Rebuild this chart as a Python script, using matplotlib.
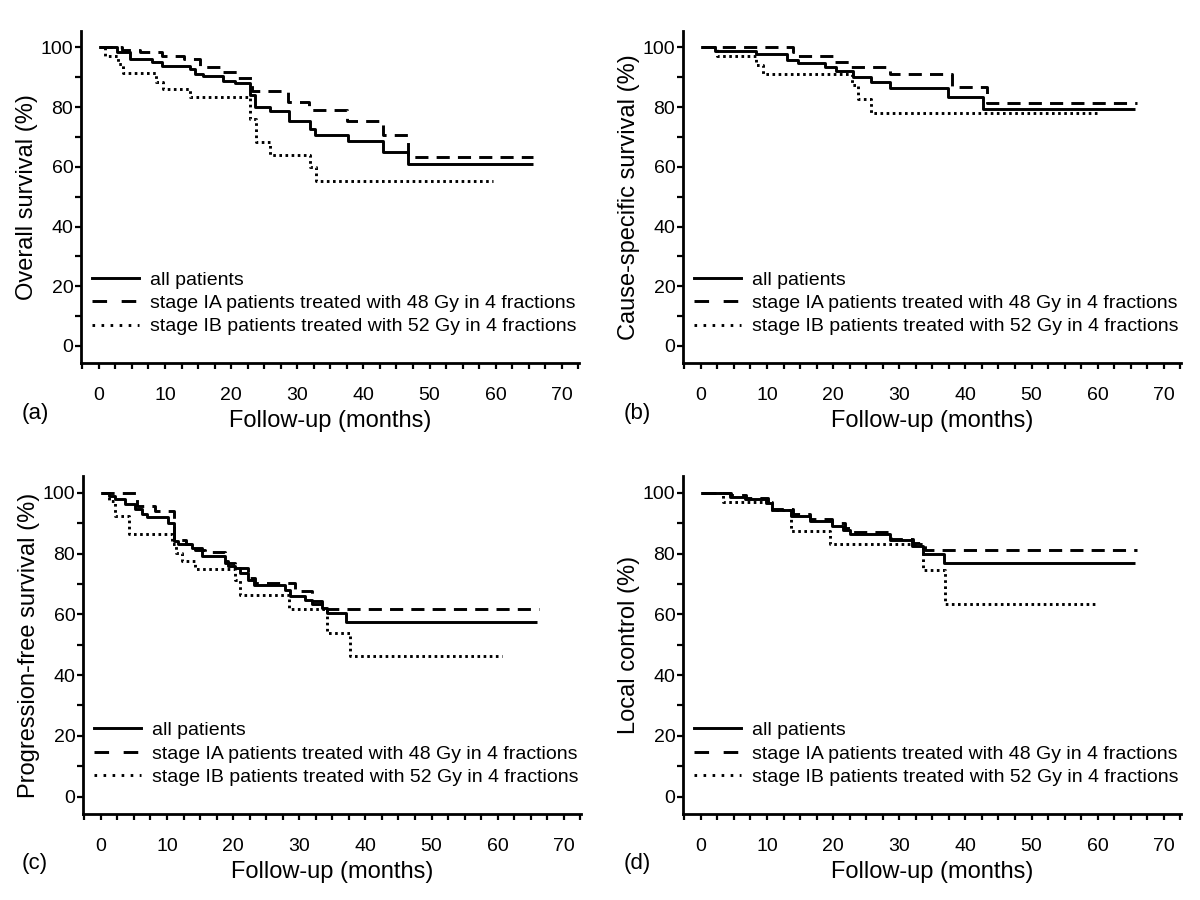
import matplotlib
matplotlib.use("Agg")
import matplotlib.pyplot as plt
from matplotlib.lines import Line2D
from matplotlib.ticker import MultipleLocator

plt.rcParams["font.family"] = ["Liberation Sans", "DejaVu Sans"]

# ---- data (step times in months, survival in %) ----
# (a) overall survival
os_all_t = [0, 2.7, 4.7, 8.0, 9.5, 13.8, 14.5, 15.8, 18.8, 20.6, 22.8, 23.6, 25.9,
            28.8, 31.9, 32.7, 37.7, 42.9, 46.8, 65.7]
os_all_s = [100, 98.3, 96.1, 95.0, 93.9, 92.8, 91.1, 90.3, 88.9, 88.0, 83.9, 80.0, 78.6,
            75.5, 72.7, 70.8, 68.5, 64.9, 61.0, 61.0]
os_ia_t = [0, 3.5, 6.2, 9.5, 12.8, 15.3, 18.6, 21.1, 23.1, 28.6, 31.7, 37.5, 43.0, 46.8, 65.7]
os_ia_s = [100, 99.3, 98.3, 97.2, 96.1, 93.3, 91.7, 89.8, 85.5, 81.6, 78.9, 75.3, 70.5, 63.3, 63.3]
os_ib_t = [0, 1.0, 2.9, 3.7, 8.7, 9.7, 13.8, 22.8, 23.8, 25.9, 31.9, 32.9, 59.6]
os_ib_s = [100, 97.0, 94.4, 91.4, 88.5, 86.1, 83.3, 76.1, 68.3, 64.1, 60.0, 55.3, 55.3]

# (b) cause-specific survival
css_all_t = [0, 2.1, 8.4, 13.0, 14.7, 18.8, 20.5, 23.0, 25.8, 28.6, 37.4, 42.7, 65.7]
css_all_s = [100, 98.9, 97.7, 95.8, 94.7, 93.3, 92.1, 90.2, 88.5, 86.3, 83.5, 79.4, 79.4]
css_ia_t = [0, 14.0, 14.7, 20.0, 22.5, 28.6, 37.9, 43.2, 65.9]
css_ia_s = [100, 98.6, 97.1, 95.2, 93.5, 91.1, 86.9, 81.3, 81.3]
css_ib_t = [0, 2.4, 8.4, 9.4, 22.8, 23.8, 25.8, 59.9]
css_ib_s = [100, 97.1, 94.1, 91.1, 87.4, 82.7, 78.0, 78.0]

# (c) progression-free survival
pfs_all_t = [0, 1.2, 2.2, 3.7, 5.2, 6.2, 7.0, 10.2, 11.0, 11.7, 13.8, 15.3, 18.8, 19.3,
             20.3, 21.1, 22.3, 23.1, 27.9, 28.6, 30.9, 31.9, 33.4, 34.2, 37.0, 66.0]
pfs_all_s = [100, 98.9, 97.8, 96.2, 94.5, 92.9, 92.1, 90.1, 84.1, 83.0, 81.9, 79.3, 77.5, 76.0,
             75.3, 73.6, 71.4, 69.5, 68.1, 65.9, 64.8, 63.5, 62.1, 60.4, 57.4, 57.4]
pfs_ia_t = [0, 5.4, 8.2, 11.0, 12.8, 14.3, 15.8, 18.8, 20.3, 22.3, 23.3, 29.4, 31.9, 33.4, 66.2]
pfs_ia_s = [100, 95.6, 94.0, 84.6, 83.0, 81.3, 80.4, 76.9, 75.3, 72.0, 70.3, 67.6, 64.3, 61.8, 61.8]
pfs_ib_t = [0, 1.2, 2.2, 4.2, 10.7, 11.3, 12.3, 14.3, 20.3, 21.1, 28.4, 34.2, 37.7, 60.7]
pfs_ib_s = [100, 97.3, 92.3, 86.3, 83.0, 80.2, 77.5, 74.9, 71.4, 66.5, 61.8, 53.8, 46.4, 46.4]

# (d) local control
lc_all_t = [0, 4.4, 6.7, 9.9, 10.7, 13.7, 16.5, 19.8, 21.5, 22.5, 28.6, 31.9, 33.6, 36.7, 65.7]
lc_all_s = [100, 98.7, 98.0, 96.7, 94.3, 92.3, 90.7, 89.2, 87.7, 86.3, 84.4, 82.4, 80.0, 76.9, 76.9]
lc_ia_t = [0, 4.6, 6.9, 10.2, 10.7, 14.0, 16.5, 19.8, 21.8, 23.0, 28.8, 32.1, 33.9, 65.9]
lc_ia_s = [100, 99.1, 98.4, 96.9, 94.7, 92.9, 91.4, 90.1, 88.5, 87.0, 84.8, 83.3, 81.3, 81.3]
lc_ib_t = [0, 3.4, 10.7, 13.7, 19.5, 33.6, 36.9, 59.6]
lc_ib_s = [100, 96.9, 94.3, 87.4, 83.2, 74.7, 63.5, 63.5]

labels = ["all patients",
          "stage IA patients treated with 48 Gy in 4 fractions",
          "stage IB patients treated with 52 Gy in 4 fractions"]
ylabels = ["Overall survival (%)", "Cause-specific survival (%)",
           "Progression-free survival (%)", "Local control (%)"]
tags = ["(a)", "(b)", "(c)", "(d)"]

panels = [
    [(os_all_t, os_all_s), (os_ia_t, os_ia_s), (os_ib_t, os_ib_s)],
    [(css_all_t, css_all_s), (css_ia_t, css_ia_s), (css_ib_t, css_ib_s)],
    [(pfs_all_t, pfs_all_s), (pfs_ia_t, pfs_ia_s), (pfs_ib_t, pfs_ib_s)],
    [(lc_all_t, lc_all_s), (lc_ia_t, lc_ia_s), (lc_ib_t, lc_ib_s)],
]

LW = 2.1
STYLES = ["-", (0, (4.5, 2.8)), (0, (0.9, 1.2))]
LEG_STYLES = ["-", (0, (5.0, 5.0)), (0, (0.9, 2.2))]

W, H = 1200, 900
# axes boxes in pixels: left, right, top, bottom
boxes = [(81, 579, 31, 363), (683, 1181, 31, 363),
         (83, 581, 476, 814), (683, 1181, 476, 814)]
tag_pos = [(22, 414), (624, 414), (22, 864), (624, 864)]

fig = plt.figure(figsize=(W / 100, H / 100), dpi=100)
for k, (l, r, t, b) in enumerate(boxes):
    ax = fig.add_axes([l / W, 1 - b / H, (r - l) / W, (b - t) / H])
    for (tt, ss), ls in zip(panels[k], STYLES):
        ax.step(tt, ss, where="post", color="black", lw=LW, linestyle=ls,
                solid_capstyle="butt", dash_capstyle="butt")
    ax.set_xlim(-2.7, 72.6)
    ax.set_ylim(-5.7, 105.5)
    ax.xaxis.set_major_locator(MultipleLocator(10))
    ax.xaxis.set_minor_locator(MultipleLocator(2.5))
    ax.yaxis.set_major_locator(MultipleLocator(20))
    ax.yaxis.set_minor_locator(MultipleLocator(10))
    for side in ("top", "right"):
        ax.spines[side].set_visible(False)
    for side in ("left", "bottom"):
        ax.spines[side].set_linewidth(2.0)
    ax.tick_params(which="both", direction="out", length=4.5, width=1.6)
    ax.tick_params(axis="x", which="major", pad=13, labelsize=14)
    ax.tick_params(axis="y", which="major", pad=1, labelsize=14)
    ax.set_xlabel("Follow-up (months)", fontsize=17, labelpad=4)
    ax.set_ylabel(ylabels[k], fontsize=17, labelpad=2)

    handles = [Line2D([], [], color="black", lw=LW, linestyle=ls,
                      dash_capstyle="butt") for ls in LEG_STYLES]
    ax.legend(handles, labels, loc="lower left", bbox_to_anchor=(0.022, 0.083),
              frameon=False, fontsize=14, borderpad=0, borderaxespad=0,
              handlelength=2.4, handletextpad=0.6, labelspacing=0.3)

    fig.text(tag_pos[k][0] / W, 1 - tag_pos[k][1] / H, tags[k], fontsize=16,
             va="center", ha="left")

fig.savefig("out.png", dpi=100)
